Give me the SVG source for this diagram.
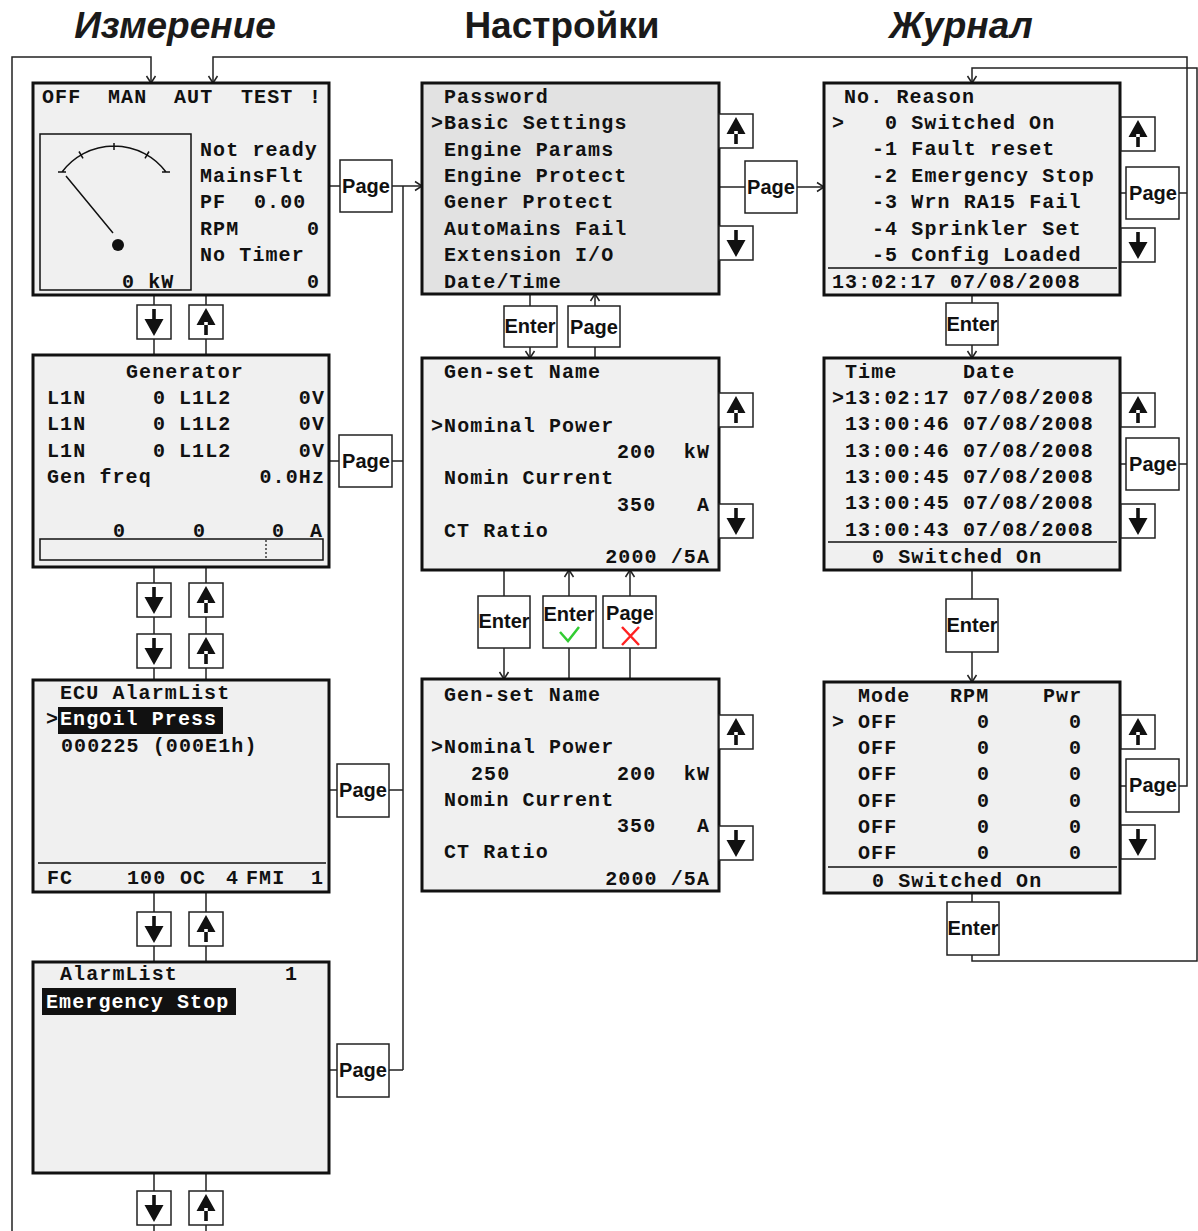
<svg xmlns="http://www.w3.org/2000/svg" width="1198" height="1231" viewBox="0 0 1198 1231">
<style>
.s{fill:#f0f0f0;stroke:#111;stroke-width:3}
.b{fill:#fff;stroke:#222;stroke-width:1.5}
.c{fill:none;stroke:#222;stroke-width:1.5}
.t{font-family:"Courier New","Liberation Mono",monospace;font-weight:bold;font-size:20px;letter-spacing:1.1px;fill:#111}
.e{text-anchor:end}
.w{fill:#fff}
.bl{font-family:"Liberation Sans",Arial,sans-serif;font-weight:bold;font-size:20px;text-anchor:middle;fill:#111}
.h{font-family:"Liberation Sans",Arial,sans-serif;font-weight:bold;font-size:37px;text-anchor:middle;fill:#1a1a1a}
.thin{fill:none;stroke:#111;stroke-width:1.5}
</style>
<defs>
<marker id="ah" markerWidth="12" markerHeight="12" refX="10" refY="6" orient="auto" markerUnits="userSpaceOnUse"><path d="M3,1.5 L10,6 L3,10.5" fill="none" stroke="#222" stroke-width="1.5"/></marker>
<g id="dn"><rect class="b" width="34" height="34"/><path d="M15.2,4h3.6v13h-3.6z M7.5,14h19l-9.5,17z" fill="#111"/></g>
<g id="up"><rect class="b" width="34" height="34"/><path d="M15.2,17h3.6v13h-3.6z M7.5,20h19l-9.5,-17z" fill="#111"/></g>
</defs>
<rect width="1198" height="1231" fill="#fff"/>

<g id="titles">
<text class="h" x="175" y="38" font-style="italic">Измерение</text>
<text class="h" x="562" y="38">Настройки</text>
<text class="h" x="961" y="38" font-style="italic">Журнал</text>
</g>

<g id="connectors" class="c">
<path d="M12,1231 V57 H151 V83" marker-end="url(#ah)"/>
<path d="M1179,193 H1187 M1179,464 H1187"/>
<path d="M1179,786 H1187 V57 H213 V83" marker-end="url(#ah)"/>
<path d="M972,955 V961 H1197 V68 H972 V83" marker-end="url(#ah)"/>
<path d="M329,186 H340"/>
<path d="M392,186 H422" marker-end="url(#ah)"/>
<path d="M403,186 V1070 M329,461 H339 M392,461 H403 M329,790 H337 M389,790 H403 M329,1070 H337 M389,1070 H403"/>
<path d="M719,187 H745"/>
<path d="M797,187 H824" marker-end="url(#ah)"/>
<path d="M1120,193 H1126 M1120,464 H1126 M1120,786 H1126"/>
<path d="M154,295 V305 M154,339 V355 M206,295 V305 M206,339 V355 M154,567 V583 M154,617 V634 M154,668 V680 M206,567 V583 M206,617 V634 M206,668 V680 M154,892 V912 M154,946 V962 M206,892 V912 M206,946 V962 M154,1173 V1191 M154,1225 V1231 M206,1173 V1191 M206,1225 V1231"/>
<path d="M530,294 V306"/>
<path d="M530,347 V358" marker-end="url(#ah)"/>
<path d="M595,358 V347"/>
<path d="M595,306 V294" marker-end="url(#ah)"/>
<path d="M504,570 V596"/>
<path d="M504,648 V679" marker-end="url(#ah)"/>
<path d="M569,679 V648"/>
<path d="M569,596 V570" marker-end="url(#ah)"/>
<path d="M630,679 V648"/>
<path d="M630,596 V570" marker-end="url(#ah)"/>
<path d="M972,295 V303"/>
<path d="M972,345 V358" marker-end="url(#ah)"/>
<path d="M972,570 V599"/>
<path d="M972,652 V682" marker-end="url(#ah)"/>
<path d="M972,893 V902"/>
</g>

<g id="screen-main">
<rect class="s" x="33" y="83" width="296" height="212"/>
<text class="t" x="42" y="103">OFF</text><text class="t" x="108" y="103">MAN</text><text class="t" x="174" y="103">AUT</text><text class="t" x="241" y="103">TEST</text><text class="t" x="309" y="103">!</text>
<rect class="thin" x="40" y="134" width="151" height="156"/>
<path class="thin" d="M62,172 A65,65 0 0 1 166,172 M58,172 H66 M162,172 H170 M114,143 V150 M79,151.5 L83,158.4 M149,151.5 L145,158.4 M66,176 L113,233"/>
<circle cx="118" cy="245" r="6" fill="#111"/>
<text class="t" x="122" y="288">0 kW</text>
<text class="t" x="200" y="156">Not ready</text>
<text class="t" x="200" y="182">MainsFlt</text>
<text class="t" x="200" y="208">PF</text><text class="t" x="254" y="208">0.00</text>
<text class="t" x="200" y="235">RPM</text><text class="t e" x="320" y="235">0</text>
<text class="t" x="200" y="261">No Timer</text>
<text class="t e" x="320" y="288">0</text>
</g>

<g id="screen-generator">
<rect class="s" x="33" y="355" width="296" height="212"/>
<text class="t" x="126" y="378">Generator</text>
<text class="t" x="47" y="404">L1N</text><text class="t" x="153" y="404">0</text><text class="t" x="179" y="404">L1L2</text><text class="t e" x="325" y="404">0V</text>
<text class="t" x="47" y="430">L1N</text><text class="t" x="153" y="430">0</text><text class="t" x="179" y="430">L1L2</text><text class="t e" x="325" y="430">0V</text>
<text class="t" x="47" y="457">L1N</text><text class="t" x="153" y="457">0</text><text class="t" x="179" y="457">L1L2</text><text class="t e" x="325" y="457">0V</text>
<text class="t" x="47" y="483">Gen freq</text><text class="t e" x="325" y="483">0.0Hz</text>
<text class="t" x="113" y="537">0</text><text class="t" x="193" y="537">0</text><text class="t" x="272" y="537">0</text><text class="t" x="310" y="537">A</text>
<rect class="thin" x="40" y="539" width="283" height="21"/>
<line x1="266" y1="540" x2="266" y2="559" stroke="#111" stroke-width="1.2" stroke-dasharray="2,2"/>
</g>

<g id="screen-ecu">
<rect class="s" x="33" y="680" width="296" height="212"/>
<text class="t" x="60" y="699">ECU AlarmList</text>
<text class="t" x="46" y="725">&gt;</text>
<rect x="58" y="707" width="165" height="27" fill="#111"/>
<text class="t w" x="60" y="725">EngOil Press</text>
<text class="t" x="61" y="752">000225 (000E1h)</text>
<line x1="38" y1="863" x2="326" y2="863" stroke="#111" stroke-width="1.5"/>
<text class="t" x="47" y="884">FC</text><text class="t" x="127" y="884">100</text><text class="t" x="180" y="884">OC</text><text class="t" x="226" y="884">4</text><text class="t" x="246" y="884">FMI</text><text class="t e" x="324" y="884">1</text>
</g>

<g id="screen-alarmlist">
<rect class="s" x="33" y="962" width="296" height="211"/>
<text class="t" x="60" y="980">AlarmList</text><text class="t" x="285" y="980">1</text>
<rect x="42" y="988" width="194" height="27" fill="#111"/>
<text class="t w" x="46" y="1008">Emergency Stop</text>
</g>

<g id="left-buttons">
<use href="#dn" x="137" y="305"/><use href="#up" x="189" y="305"/>
<use href="#dn" x="137" y="583"/><use href="#up" x="189" y="583"/>
<use href="#dn" x="137" y="634"/><use href="#up" x="189" y="634"/>
<use href="#dn" x="137" y="912"/><use href="#up" x="189" y="912"/>
<use href="#dn" x="137" y="1191"/><use href="#up" x="189" y="1191"/>
<rect class="b" x="340" y="160" width="52" height="52"/><text class="bl" x="366" y="193">Page</text>
<rect class="b" x="339" y="435" width="53" height="52"/><text class="bl" x="366" y="468">Page</text>
<rect class="b" x="337" y="764" width="52" height="53"/><text class="bl" x="363" y="797">Page</text>
<rect class="b" x="337" y="1044" width="52" height="53"/><text class="bl" x="363" y="1077">Page</text>
</g>

<g id="screen-settings-menu">
<rect class="s" x="422" y="83" width="297" height="211" style="fill:#e2e2e2"/>
<text class="t" x="444" y="103">Password</text>
<text class="t" x="431" y="129">&gt;Basic Settings</text>
<text class="t" x="444" y="156">Engine Params</text>
<text class="t" x="444" y="182">Engine Protect</text>
<text class="t" x="444" y="208">Gener Protect</text>
<text class="t" x="444" y="235">AutoMains Fail</text>
<text class="t" x="444" y="261">Extension I/O</text>
<text class="t" x="444" y="288">Date/Time</text>
</g>

<g id="screen-settings-param">
<rect class="s" x="422" y="358" width="297" height="212"/>
<text class="t" x="444" y="378">Gen-set Name</text>
<text class="t" x="431" y="432">&gt;Nominal Power</text>
<text class="t" x="617" y="458">200</text><text class="t e" x="710" y="458">kW</text>
<text class="t" x="444" y="484">Nomin Current</text>
<text class="t" x="617" y="511">350</text><text class="t e" x="710" y="511">A</text>
<text class="t" x="444" y="537">CT Ratio</text>
<text class="t e" x="710" y="563">2000 /5A</text>
</g>

<g id="screen-settings-edit">
<rect class="s" x="422" y="679" width="297" height="212"/>
<text class="t" x="444" y="701">Gen-set Name</text>
<text class="t" x="431" y="753">&gt;Nominal Power</text>
<text class="t" x="471" y="780">250</text><text class="t" x="617" y="780">200</text><text class="t e" x="710" y="780">kW</text>
<text class="t" x="444" y="806">Nomin Current</text>
<text class="t" x="617" y="832">350</text><text class="t e" x="710" y="832">A</text>
<text class="t" x="444" y="858">CT Ratio</text>
<text class="t e" x="710" y="885">2000 /5A</text>
</g>

<g id="middle-buttons">
<use href="#up" x="719" y="114"/><use href="#dn" x="719" y="226"/>
<use href="#up" x="719" y="393"/><use href="#dn" x="719" y="504"/>
<use href="#up" x="719" y="715"/><use href="#dn" x="719" y="826"/>
<rect class="b" x="745" y="161" width="52" height="52"/><text class="bl" x="771" y="194">Page</text>
<rect class="b" x="504" y="306" width="53" height="41"/><text class="bl" x="530" y="333">Enter</text>
<rect class="b" x="568" y="306" width="52" height="41"/><text class="bl" x="594" y="334">Page</text>
<rect class="b" x="478" y="596" width="52" height="52"/><text class="bl" x="504" y="628">Enter</text>
<rect class="b" x="543" y="596" width="53" height="52"/><text class="bl" x="569" y="621">Enter</text>
<polyline points="560,632 568,641 579,627" fill="none" stroke="#3c3" stroke-width="2.5"/>
<rect class="b" x="603" y="596" width="53" height="52"/><text class="bl" x="630" y="620">Page</text>
<path d="M622,627 L639,645 M639,627 L622,645" stroke="#f22" stroke-width="2.5"/>
</g>

<g id="screen-journal-list">
<rect class="s" x="824" y="83" width="296" height="212"/>
<text class="t" x="844" y="103">No. Reason</text>
<text class="t" x="832" y="129">&gt;</text><text class="t" x="885" y="129">0 Switched On</text>
<text class="t" x="872" y="155">-1 Fault reset</text>
<text class="t" x="872" y="182">-2 Emergency Stop</text>
<text class="t" x="872" y="208">-3 Wrn RA15 Fail</text>
<text class="t" x="872" y="235">-4 Sprinkler Set</text>
<text class="t" x="872" y="261">-5 Config Loaded</text>
<line x1="828" y1="268" x2="1117" y2="268" stroke="#111" stroke-width="1.5"/>
<text class="t" x="832" y="288">13:02:17 07/08/2008</text>
</g>

<g id="screen-journal-time">
<rect class="s" x="824" y="358" width="296" height="212"/>
<text class="t" x="845" y="378">Time</text><text class="t" x="963" y="378">Date</text>
<text class="t" x="832" y="404">&gt;13:02:17 07/08/2008</text>
<text class="t" x="845" y="430">13:00:46 07/08/2008</text>
<text class="t" x="845" y="457">13:00:46 07/08/2008</text>
<text class="t" x="845" y="483">13:00:45 07/08/2008</text>
<text class="t" x="845" y="509">13:00:45 07/08/2008</text>
<text class="t" x="845" y="536">13:00:43 07/08/2008</text>
<line x1="828" y1="542" x2="1117" y2="542" stroke="#111" stroke-width="1.5"/>
<text class="t" x="872" y="563">0 Switched On</text>
</g>

<g id="screen-journal-values">
<rect class="s" x="824" y="682" width="296" height="211"/>
<text class="t" x="858" y="702">Mode</text><text class="t" x="950" y="702">RPM</text><text class="t" x="1043" y="702">Pwr</text>
<text class="t" x="832" y="728">&gt;</text>
<text class="t" x="858" y="728">OFF</text><text class="t" x="977" y="728">0</text><text class="t" x="1069" y="728">0</text>
<text class="t" x="858" y="754">OFF</text><text class="t" x="977" y="754">0</text><text class="t" x="1069" y="754">0</text>
<text class="t" x="858" y="780">OFF</text><text class="t" x="977" y="780">0</text><text class="t" x="1069" y="780">0</text>
<text class="t" x="858" y="807">OFF</text><text class="t" x="977" y="807">0</text><text class="t" x="1069" y="807">0</text>
<text class="t" x="858" y="833">OFF</text><text class="t" x="977" y="833">0</text><text class="t" x="1069" y="833">0</text>
<text class="t" x="858" y="859">OFF</text><text class="t" x="977" y="859">0</text><text class="t" x="1069" y="859">0</text>
<line x1="828" y1="867" x2="1117" y2="867" stroke="#111" stroke-width="1.5"/>
<text class="t" x="872" y="887">0 Switched On</text>
</g>

<g id="right-buttons">
<use href="#up" x="1121" y="117"/><use href="#dn" x="1121" y="228"/>
<use href="#up" x="1121" y="393"/><use href="#dn" x="1121" y="504"/>
<use href="#up" x="1121" y="715"/><use href="#dn" x="1121" y="825"/>
<rect class="b" x="1126" y="167" width="53" height="52"/><text class="bl" x="1153" y="200">Page</text>
<rect class="b" x="1126" y="438" width="53" height="52"/><text class="bl" x="1153" y="471">Page</text>
<rect class="b" x="1126" y="759" width="53" height="53"/><text class="bl" x="1153" y="792">Page</text>
<rect class="b" x="946" y="303" width="52" height="42"/><text class="bl" x="972" y="331">Enter</text>
<rect class="b" x="946" y="599" width="52" height="53"/><text class="bl" x="972" y="632">Enter</text>
<rect class="b" x="947" y="902" width="52" height="53"/><text class="bl" x="973" y="935">Enter</text>
</g>
</svg>
